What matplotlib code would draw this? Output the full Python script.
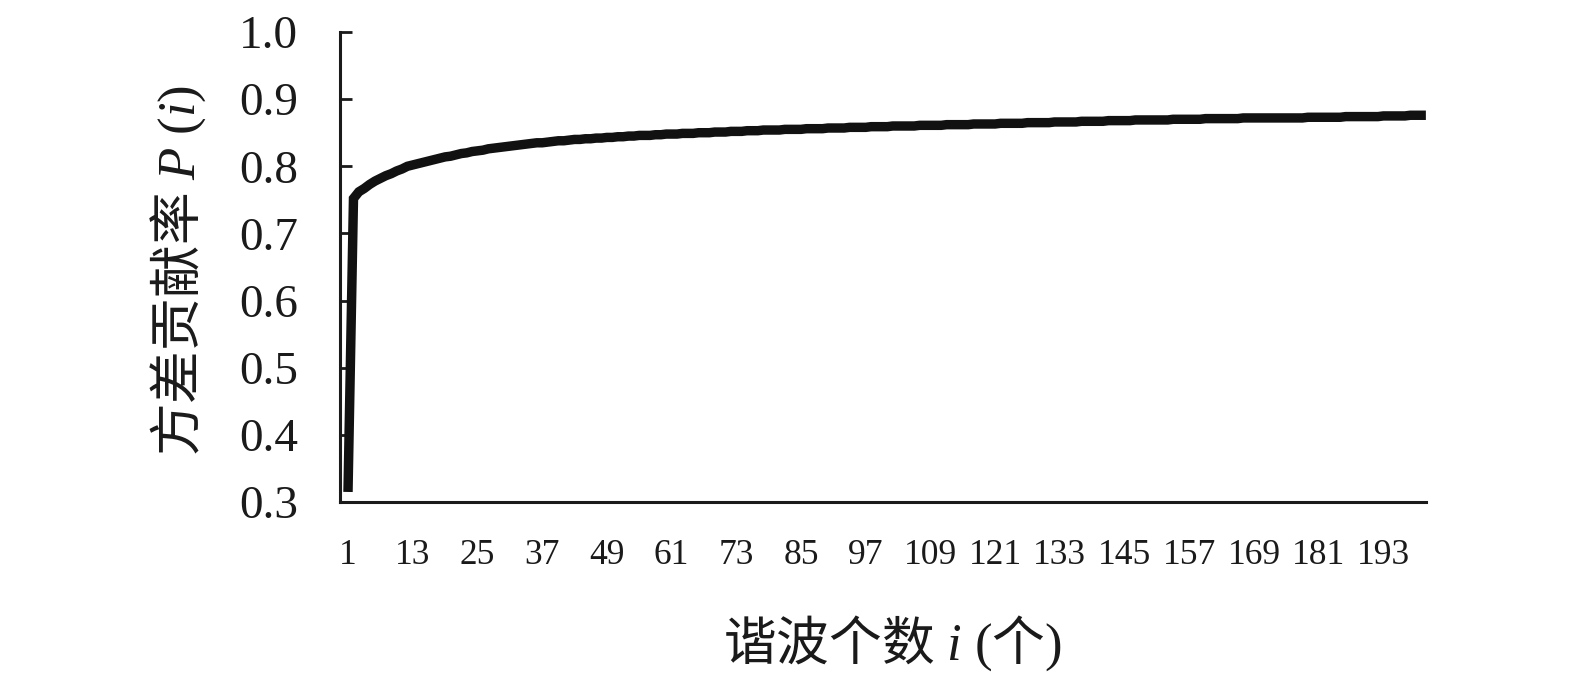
import matplotlib
matplotlib.use("Agg")
import matplotlib.pyplot as plt
import numpy as np

plt.rcParams['font.family'] = ['Liberation Serif', 'Noto Sans CJK SC', 'DejaVu Sans']
plt.rcParams['mathtext.fontset'] = 'custom'
plt.rcParams['mathtext.rm'] = 'Noto Sans CJK SC'
plt.rcParams['mathtext.it'] = 'Liberation Serif:italic'
plt.rcParams['mathtext.sf'] = 'Liberation Serif'

# Harmonic count (category index) and cumulative variance contribution P(i)
harmonics = list(range(1, 201))
p_values = [
    0.322, 0.752, 0.762, 0.767, 0.773, 0.778, 0.782, 0.786, 0.789, 0.793,
    0.796, 0.800, 0.802, 0.804, 0.806, 0.808, 0.810, 0.812, 0.814, 0.815,
    0.817, 0.819, 0.820, 0.822, 0.823, 0.824, 0.826, 0.827, 0.828, 0.829,
    0.830, 0.831, 0.832, 0.833, 0.834, 0.835, 0.835, 0.836, 0.837, 0.838,
    0.838, 0.839, 0.840, 0.840, 0.841, 0.841, 0.842, 0.842, 0.843, 0.843,
    0.844, 0.844, 0.845, 0.845, 0.846, 0.846, 0.846, 0.847, 0.847, 0.848,
    0.848, 0.848, 0.849, 0.849, 0.849, 0.850, 0.850, 0.850, 0.851, 0.851,
    0.851, 0.852, 0.852, 0.852, 0.853, 0.853, 0.853, 0.854, 0.854, 0.854,
    0.854, 0.855, 0.855, 0.855, 0.855, 0.856, 0.856, 0.856, 0.856, 0.857,
    0.857, 0.857, 0.857, 0.858, 0.858, 0.858, 0.858, 0.859, 0.859, 0.859,
    0.859, 0.860, 0.860, 0.860, 0.860, 0.860, 0.861, 0.861, 0.861, 0.861,
    0.861, 0.862, 0.862, 0.862, 0.862, 0.862, 0.863, 0.863, 0.863, 0.863,
    0.863, 0.864, 0.864, 0.864, 0.864, 0.864, 0.865, 0.865, 0.865, 0.865,
    0.865, 0.866, 0.866, 0.866, 0.866, 0.866, 0.867, 0.867, 0.867, 0.867,
    0.867, 0.868, 0.868, 0.868, 0.868, 0.868, 0.869, 0.869, 0.869, 0.869,
    0.869, 0.869, 0.869, 0.870, 0.870, 0.870, 0.870, 0.870, 0.870, 0.871,
    0.871, 0.871, 0.871, 0.871, 0.871, 0.871, 0.872, 0.872, 0.872, 0.872,
    0.872, 0.872, 0.872, 0.872, 0.872, 0.872, 0.872, 0.872, 0.873, 0.873,
    0.873, 0.873, 0.873, 0.873, 0.873, 0.874, 0.874, 0.874, 0.874, 0.874,
    0.874, 0.874, 0.875, 0.875, 0.875, 0.875, 0.875, 0.876, 0.876, 0.876,
]
x_ticks = list(range(1, 194, 12))
y_ticks = [0.3, 0.4, 0.5, 0.6, 0.7, 0.8, 0.9, 1.0]

x_label = r'$\mathrm{谐波个数}\ \mathit{i}\ \mathsf{(}\mathrm{个}\mathsf{)}$'
y_label = r'$\mathrm{方差贡献率}\ \mathit{P}\ \mathsf{(}\mathit{i}\mathsf{)}$'

fig = plt.figure(figsize=(15.75, 6.83), dpi=100)
ax = fig.add_axes([340 / 1575, 1 - 502 / 683, 1086 / 1575, 470 / 683])

ax.plot(harmonics, p_values, color='#111111', linewidth=6.8,
        solid_capstyle='projecting', solid_joinstyle='miter')

ax.set_xlim(-0.5, 200.9)
ax.set_ylim(0.3, 1.0)

ax.set_xticks(x_ticks)
ax.set_xticklabels([str(t) for t in x_ticks])
ax.set_yticks(y_ticks)
ax.set_yticklabels([f"{t:.1f}" for t in y_ticks])

for side in ['top', 'right']:
    ax.spines[side].set_visible(False)
for side in ['left', 'bottom']:
    ax.spines[side].set_linewidth(2.2)
    ax.spines[side].set_color('#1a1a1a')

ax.tick_params(axis='y', direction='in', length=8.5, width=2.0, pad=30,
               labelsize=34, colors='#1a1a1a')
ax.tick_params(axis='x', length=0, pad=27, labelsize=25.5, colors='#1a1a1a')

ax.text((892 - 340) / 1086, (502 - 643) / 470, x_label,
        transform=ax.transAxes, ha='center', va='center', fontsize=38,
        color='#1a1a1a')
ax.text((178 - 340) / 1086, (502 - 271) / 470, y_label,
        transform=ax.transAxes, ha='center', va='center', fontsize=38,
        rotation=90, color='#1a1a1a')

fig.savefig('out.png', dpi=100)
